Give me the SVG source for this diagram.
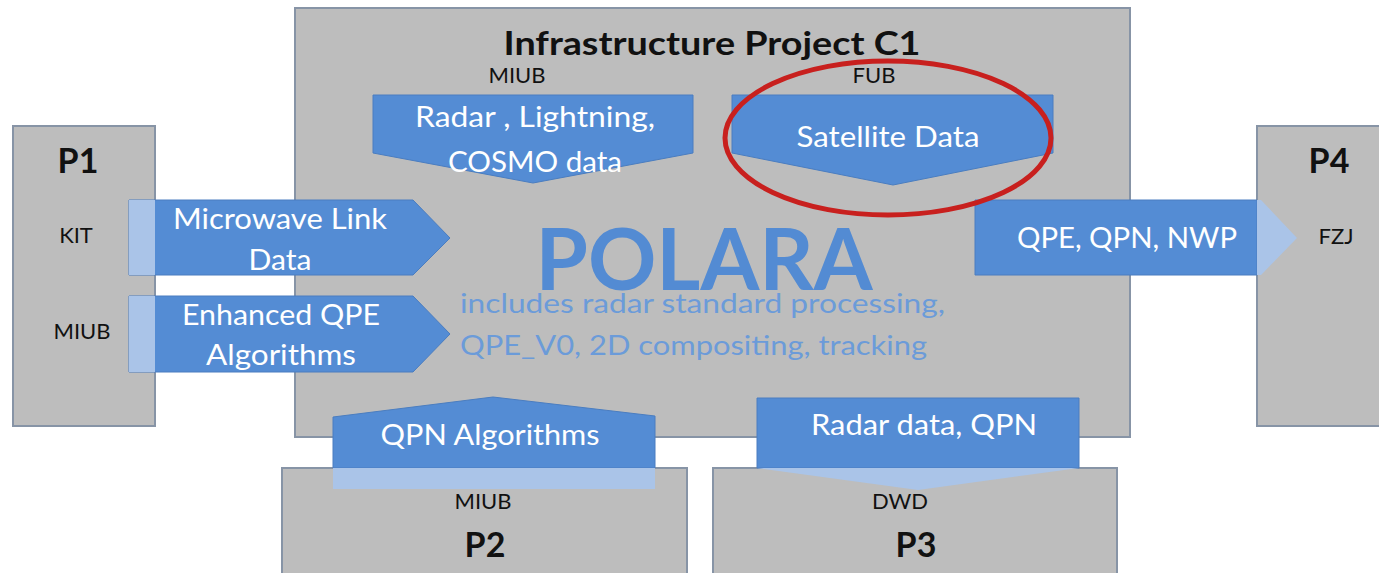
<svg xmlns="http://www.w3.org/2000/svg" width="1379" height="573" viewBox="0 0 1379 573">
<style>
.box{fill:#bdbdbd;stroke:#8794a6;stroke-width:2}
.arr{fill:#548cd4;stroke:#4a7dc0;stroke-width:1}
.lt{fill:#aac4e8}
.blk{font-family:Lato,"Open Sans",sans-serif;fill:#111;text-anchor:middle}
.wh{font-family:Lato,"Open Sans",sans-serif;fill:#fff;font-size:28px;text-anchor:middle}
.bold{font-weight:bold}
</style>
<rect width="1379" height="573" fill="#fff"/>
<g id="c1">
<rect class="box" x="295" y="8" width="835" height="429"/>
<text class="blk bold" x="712" y="55" font-size="32" textLength="417" lengthAdjust="spacingAndGlyphs">Infrastructure Project C1</text>
<text class="blk" x="517" y="83" font-size="22">MIUB</text>
<text class="blk" x="874" y="83" font-size="22">FUB</text>
<text x="704" y="290" font-family="Lato,'Open Sans',sans-serif" font-weight="bold" font-size="86" fill="#538bd3" text-anchor="middle" textLength="337" lengthAdjust="spacingAndGlyphs">POLARA</text>
<text x="460" y="313" font-family="Lato,'Open Sans',sans-serif" font-size="27" fill="#6b9bd9" textLength="485" lengthAdjust="spacingAndGlyphs">includes radar standard processing,</text>
<text x="460" y="355" font-family="Lato,'Open Sans',sans-serif" font-size="27" fill="#6b9bd9" textLength="467" lengthAdjust="spacingAndGlyphs">QPE_V0, 2D compositing, tracking</text>
</g>
<g id="p1">
<rect class="box" x="13" y="126" width="142" height="300"/>
<text class="blk bold" x="78" y="173" font-size="34">P1</text>
<text class="blk" x="76" y="243" font-size="22">KIT</text>
<text class="blk" x="82" y="339" font-size="22">MIUB</text>
</g>
<g id="p4">
<rect class="box" x="1257" y="126" width="130" height="300"/>
<text class="blk bold" x="1329" y="173" font-size="34">P4</text>
<text class="blk" x="1336" y="244" font-size="22">FZJ</text>
</g>
<g id="p2">
<rect class="box" x="282" y="468" width="405" height="115"/>
<text class="blk" x="483" y="509" font-size="22">MIUB</text>
<text class="blk bold" x="485" y="557" font-size="34">P2</text>
</g>
<g id="p3">
<rect class="box" x="713" y="468" width="404" height="115"/>
<text class="blk" x="900" y="509" font-size="22">DWD</text>
<text class="blk bold" x="916" y="557" font-size="34">P3</text>
</g>
<g id="connectors">
<g id="a-microwave">
<path class="arr" d="M129,200 H413 L450,238 L413,275 H129 Z"/>
<rect class="lt" x="129" y="200" width="26" height="75"/>
<text class="wh" x="280" y="229" textLength="214" lengthAdjust="spacingAndGlyphs">Microwave Link</text>
<text class="wh" x="280" y="270" textLength="63" lengthAdjust="spacingAndGlyphs">Data</text>
</g>
<g id="a-enhanced">
<path class="arr" d="M129,296 H413 L450,334 L413,372 H129 Z"/>
<rect class="lt" x="129" y="296" width="26" height="76"/>
<text class="wh" x="281" y="325" textLength="198" lengthAdjust="spacingAndGlyphs">Enhanced QPE</text>
<text class="wh" x="281" y="365" textLength="150" lengthAdjust="spacingAndGlyphs">Algorithms</text>
</g>
<g id="a-radar">
<path class="arr" d="M373,95 H693 V153 L533,183 L373,153 Z"/>
<text class="wh" x="535" y="127" textLength="240" lengthAdjust="spacingAndGlyphs">Radar , Lightning,</text>
<text class="wh" x="535" y="172" textLength="174" lengthAdjust="spacingAndGlyphs">COSMO data</text>
</g>
<g id="a-satellite">
<path class="arr" d="M732,95 H1053 V153 L893,185 L732,153 Z"/>
<text class="wh" x="888" y="147" textLength="183" lengthAdjust="spacingAndGlyphs">Satellite Data</text>
</g>
<g id="a-qpe">
<path class="arr" d="M975,200 H1257 V275 H975 Z"/>
<path class="lt" d="M1257,200 H1261 L1297,238 L1261,275 H1257 Z"/>
<text class="wh" x="1127" y="248" textLength="220" lengthAdjust="spacingAndGlyphs">QPE, QPN, NWP</text>
</g>
<g id="a-qpn">
<path class="arr" d="M333,417 L493,397 L655,416 V468 H333 Z"/>
<rect class="lt" x="333" y="468" width="322" height="21"/>
<text class="wh" x="490" y="445" textLength="219" lengthAdjust="spacingAndGlyphs">QPN Algorithms</text>
</g>
<g id="a-radarqpn">
<path class="arr" d="M757,398 H1079 V468 H757 Z"/>
<path class="lt" d="M757,468 H1079 L918,490 Z"/>
<text class="wh" x="924" y="435" textLength="226" lengthAdjust="spacingAndGlyphs">Radar data, QPN</text>
</g>
</g>
<ellipse cx="888" cy="138" rx="163" ry="77" fill="none" stroke="#c8201e" stroke-width="5"/>
</svg>
